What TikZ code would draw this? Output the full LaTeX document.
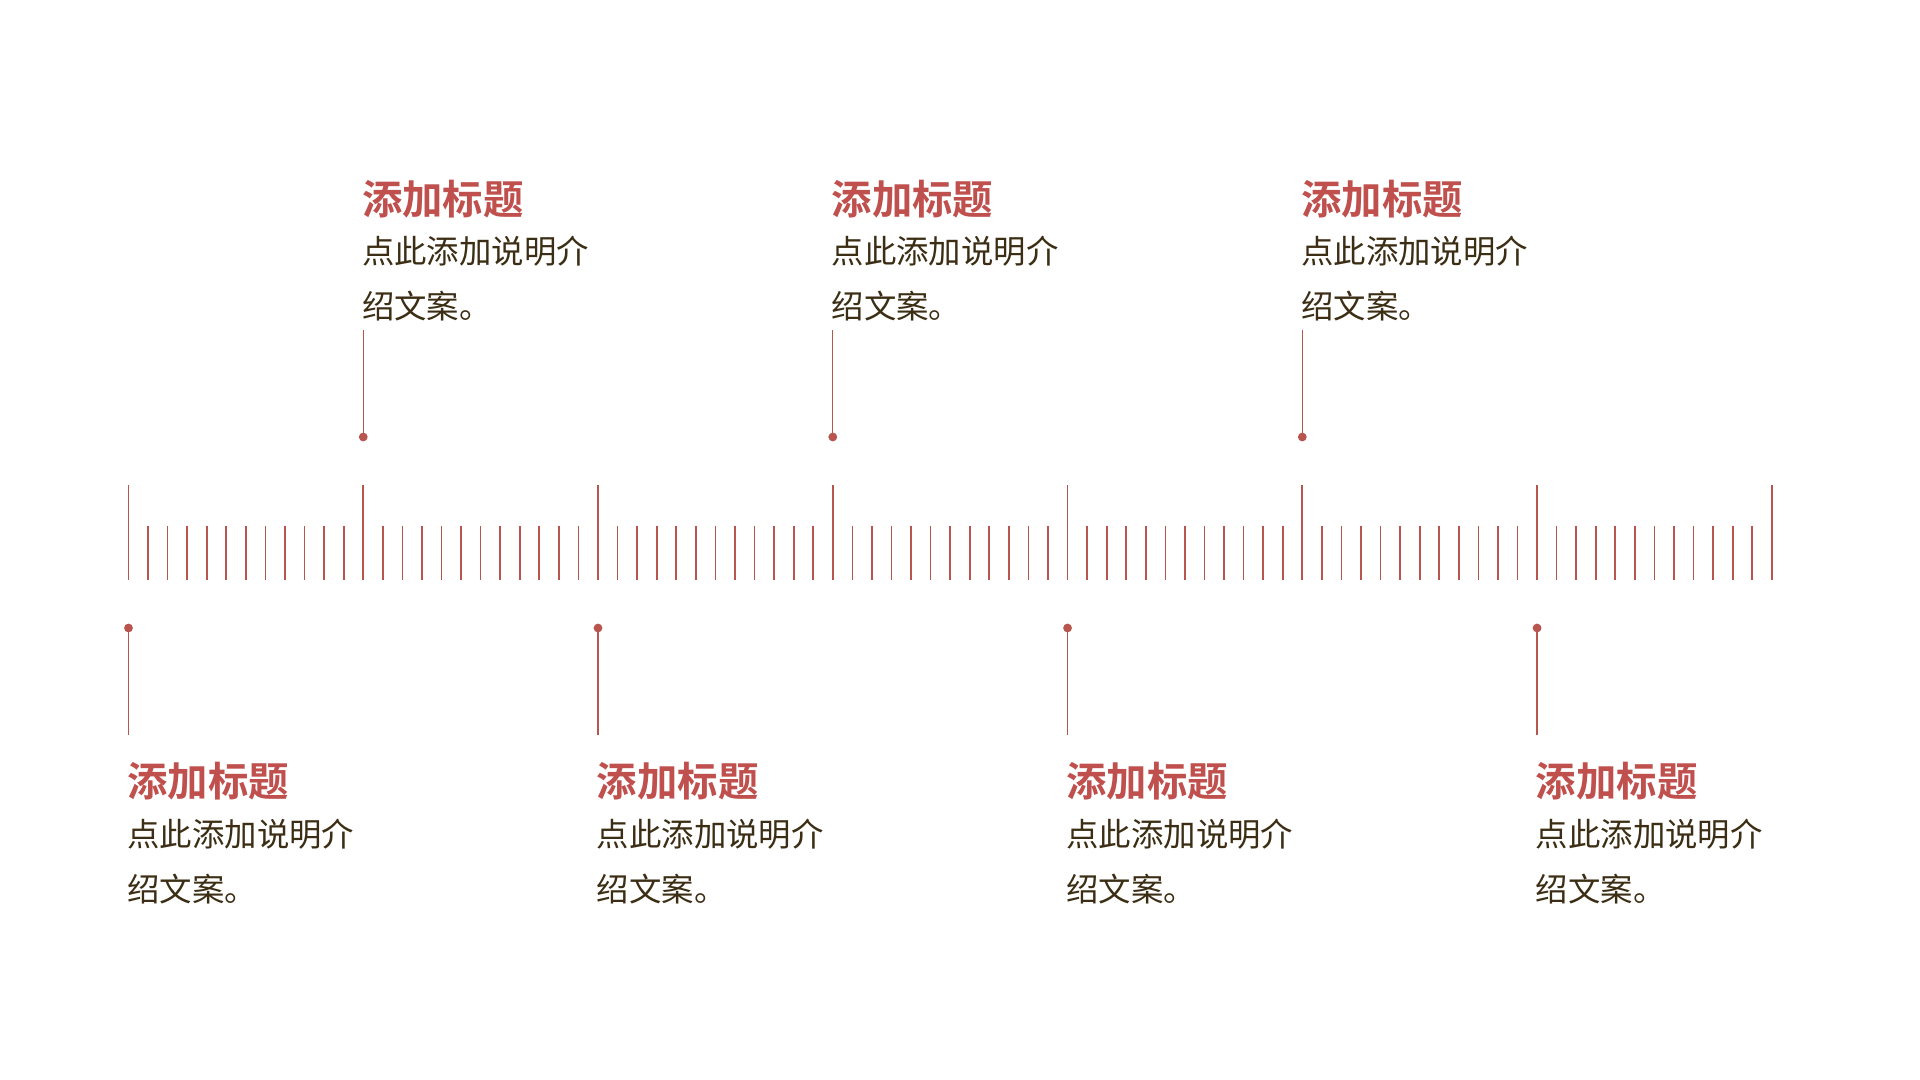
\documentclass[tikz,border=0pt]{standalone}
\usepackage{fontspec}
\newfontfamily\cjk{Noto Sans CJK SC}
\newfontfamily\cjkbold{Noto Sans CJK SC Bold}
\definecolor{accent}{HTML}{C0504D}
\definecolor{tickc}{HTML}{B9554F}
\definecolor{bodyc}{HTML}{3C2E14}
\tikzset{
  titletext/.style={anchor=base west, inner sep=0pt, text=accent, font={\cjkbold\fontsize{20.2}{24}\selectfont}},
  bodytext/.style={anchor=base west, inner sep=0pt, text=bodyc, align=left, font={\cjk\fontsize{16.2}{27.3}\selectfont}},
  longtick/.style={draw=tickc, line width=0.85pt},
  shorttick/.style={draw=tickc, line width=0.85pt},
  pin/.style={draw=tickc, line width=0.6pt},
  dotmark/.style={circle, fill=tickc, inner sep=0pt, minimum size=4.4pt},
}
\begin{document}
\begin{tikzpicture}[x=0.5pt,y=-0.5pt]
\useasboundingbox[fill=white] (0,0) rectangle (1920,1080);
% ruler
\foreach \k in {0,...,7}{
  \pgfmathsetmacro{\xk}{128.5+\k*234.76}
  \draw[longtick] (\xk,485) -- (\xk,580);
}
\foreach \k in {0,...,6}{
  \foreach \j in {1,...,11}{
    \pgfmathsetmacro{\xs}{128.5+\k*234.76+\j*19.563}
    \draw[shorttick] (\xs,526) -- (\xs,580);
  }
}
% top items (k = 1,3,5)
\foreach \k/\n in {1/a,3/b,5/c}{
  \pgfmathsetmacro{\xk}{128.5+\k*234.76}
  \node[dotmark] (dot\n) at (\xk,437) {};
  \coordinate (end\n) at (\xk,330);
  \draw[pin] (dot\n.center) -- (end\n);
  \node[titletext] (title\n) at (\xk-1.5,215) {添加标题};
  \node[bodytext] (body\n) at (\xk-1.5,318.5) {点此添加说明介\\绍文案。};
}
% bottom items (k = 0,2,4,6)
\foreach \k/\n in {0/d,2/e,4/f,6/g}{
  \pgfmathsetmacro{\xk}{128.5+\k*234.76}
  \node[dotmark] (dot\n) at (\xk,628) {};
  \coordinate (end\n) at (\xk,735);
  \draw[pin] (dot\n.center) -- (end\n);
  \node[titletext] (title\n) at (\xk-1.5,796.5) {添加标题};
  \node[bodytext] (body\n) at (\xk-1.5,901) {点此添加说明介\\绍文案。};
}
\end{tikzpicture}
\end{document}
